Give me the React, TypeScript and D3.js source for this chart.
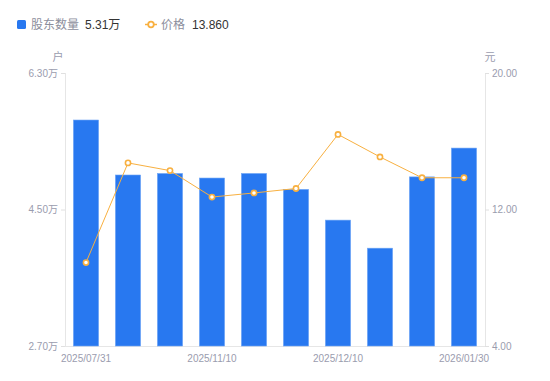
import React from "react";
import * as d3 from "d3";

const categories = ["2025/07/31", "2025/08/29", "2025/09/30", "2025/11/10", "2025/11/20", "2025/11/28", "2025/12/10", "2025/12/31", "2026/01/20", "2026/01/30"];
const holders = [5.68, 4.955, 4.975, 4.915, 4.975, 4.765, 4.36, 3.99, 4.93, 5.31];
const prices = [8.89, 14.73, 14.28, 12.73, 12.97, 13.23, 16.4, 15.08, 13.86, 13.86];
const leftTicks = [2.7, 4.5, 6.3];
const rightTicks = [4, 12, 20];
const shownLabels = ["2025/07/31", "2025/11/10", "2025/12/10", "2026/01/30"];

const W = 550, H = 381;
const M = { left: 65, right: 65, top: 73, bottom: 35 };
const FONT = "'Liberation Sans', Arial, 'Noto Sans CJK SC', sans-serif";
const BLUE = "#2878f0";
const ORANGE = "#f8b040";
const GRAY = "#9a9cae";

export default function App() {
  const x = d3.scaleBand<string>().domain(categories).range([M.left, W - M.right]).paddingInner(0.4).paddingOuter(0.2);
  const yL = d3.scaleLinear().domain([2.7, 6.3]).range([H - M.bottom, M.top]);
  const yR = d3.scaleLinear().domain([4, 20]).range([H - M.bottom, M.top]);
  const bottom = H - M.bottom;
  const cx = (c: string) => (x(c) ?? 0) + x.bandwidth() / 2;
  const line = d3.line<number>().x((_, i) => cx(categories[i])).y((d) => yR(d));

  return (
    <svg width={W} height={H} style={{ position: "absolute", left: 0, top: 0, fontFamily: FONT }}>
      <rect width={W} height={H} fill="#fff" />
      {/* legend */}
      <rect x={17} y={20} width={9} height={9} rx={1.5} fill={BLUE} />
      <text x={31} y={29} fontSize={12} fill="#8c8e9c">股东数量</text>
      <text x={85} y={29} fontSize={12} fill="#333">5.31万</text>
      <line x1={145} x2={157} y1={24.5} y2={24.5} stroke={ORANGE} strokeWidth={1.5} />
      <circle cx={151} cy={24.5} r={2.8} fill="#fff" stroke={ORANGE} strokeWidth={1.8} />
      <text x={161} y={29} fontSize={12} fill="#8c8e9c">价格</text>
      <text x={192} y={29} fontSize={12} fill="#333">13.860</text>

      {/* axis units */}
      <text x={58} y={61} fontSize={11} fill={GRAY} textAnchor="middle">户</text>
      <text x={490} y={61} fontSize={11} fill={GRAY} textAnchor="middle">元</text>

      {/* axes lines */}
      <line x1={M.left + 0.5} x2={M.left + 0.5} y1={M.top} y2={bottom} stroke="#e6e6e6" />
      <line x1={W - M.right + 0.5} x2={W - M.right + 0.5} y1={M.top} y2={bottom} stroke="#e6e6e6" />
      <line x1={M.left} x2={W - M.right} y1={bottom + 0.5} y2={bottom + 0.5} stroke="#e6e6e6" />

      {leftTicks.map((t) => (
        <g key={"l" + t}>
          <line x1={M.left - 4} x2={M.left} y1={yL(t) + 0.5} y2={yL(t) + 0.5} stroke="#e0e0e0" />
          <text x={M.left - 7} y={yL(t) + 3.5} fontSize={10} fill={GRAY} textAnchor="end">{t.toFixed(2) + "万"}</text>
        </g>
      ))}
      {rightTicks.map((t) => (
        <g key={"r" + t}>
          <line x1={W - M.right} x2={W - M.right + 4} y1={yR(t) + 0.5} y2={yR(t) + 0.5} stroke="#e0e0e0" />
          <text x={W - M.right + 7} y={yR(t) + 3.5} fontSize={10} fill={GRAY} textAnchor="start">{t.toFixed(2)}</text>
        </g>
      ))}

      {/* bars */}
      {holders.map((v, i) => (
        <rect key={i} x={x(categories[i])} y={yL(v)} width={x.bandwidth()} height={bottom - yL(v)} fill={BLUE} stroke="#6fa6f5" strokeWidth={0.6} />
      ))}

      {/* line */}
      <path d={line(prices) ?? ""} fill="none" stroke={ORANGE} strokeWidth={1} />
      {prices.map((p, i) => (
        <circle key={i} cx={cx(categories[i])} cy={yR(p)} r={2.6} fill="#fff" stroke={ORANGE} strokeWidth={1.6} />
      ))}

      {/* x labels */}
      {shownLabels.map((c) => (
        <text key={c} x={cx(c)} y={bottom + 16} fontSize={10} fill={GRAY} textAnchor="middle">{c}</text>
      ))}
    </svg>
  );
}
